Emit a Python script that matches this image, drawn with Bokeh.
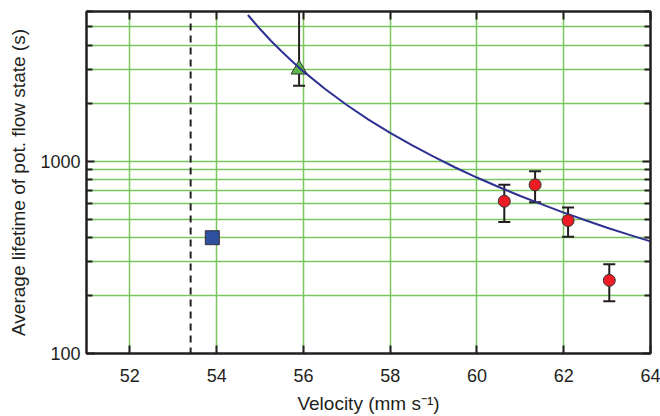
from bokeh.plotting import figure
from bokeh.models import (Range1d, FixedTicker, LinearAxis, LogAxis, Span, Whisker,
                          TeeHead, ColumnDataSource, CustomJSTickFormatter,
                          PrintfTickFormatter)
from bokeh.embed import file_html
from bokeh.resources import INLINE

# Measured lifetimes (red circles) with error-bar limits
vel_meas = [60.63, 61.34, 62.10, 63.05]
life_meas = [619, 753, 491, 240]
life_meas_hi = [753, 887, 574, 291]
life_meas_lo = [483, 611, 405, 187]

# Single estimate (green triangle) with its error bar
vel_tri = [55.9]
life_tri = [3000]
life_tri_hi = [6000]
life_tri_lo = [2465]

# Single point (blue square)
vel_sq = [53.9]
life_sq = [400]

# Fitted lifetime curve
vel_fit = [54.72, 55.0, 55.25, 55.5, 55.75, 56.0, 56.5, 57.0, 57.5, 58.0, 58.5,
           59.0, 59.5, 60.0, 60.5, 61.0, 61.5, 62.0, 62.5, 63.0, 63.5, 64.0]
life_fit = [5754, 4864, 4230, 3715, 3286, 2929, 2371, 1959, 1645, 1403, 1211,
            1055, 927, 822, 734, 659, 596, 540, 493, 451, 415, 383]

# Critical velocity (dashed line)
vel_crit = 53.4

x_ticks = [52, 54, 56, 58, 60, 62, 64]
y_major = [100, 1000]
y_minor = [200, 300, 400, 500, 600, 700, 800, 900,
           2000, 3000, 4000, 5000, 6000]

FONT = "Liberation Sans"
INK = "#231f20"
GRID = "#7ac65f"

p = figure(width=660, height=416, x_range=Range1d(51, 64), y_range=Range1d(100, 6000),
           y_axis_type="log", output_backend="svg", toolbar_location=None,
           min_border_left=86, min_border_right=10, min_border_top=11,
           min_border_bottom=63)
p.background_fill_color = "white"
p.border_fill_color = "white"
p.outline_line_color = INK
p.outline_line_width = 2

bottom = p.below[0]
left = p.left[0]

xt = FixedTicker(ticks=x_ticks)
yt = FixedTicker(ticks=y_major, minor_ticks=y_minor)

bottom.ticker = xt
left.ticker = yt
left.formatter = PrintfTickFormatter(format="%d")
bottom.axis_label = "Velocity (mm s\u207b\u00b9)"
left.axis_label = "Average lifetime of pot. flow state (s)"

top = LinearAxis(ticker=xt, formatter=CustomJSTickFormatter(code="return ''"))
right = LogAxis(ticker=yt, formatter=CustomJSTickFormatter(code="return ''"))
p.add_layout(top, "above")
p.add_layout(right, "right")

for ax in [bottom, left, top, right]:
    ax.axis_line_color = INK
    ax.axis_line_width = 2
    ax.major_tick_line_color = INK
    ax.major_tick_line_width = 2
    ax.minor_tick_line_color = INK
    ax.minor_tick_line_width = 2
    ax.major_tick_in = 8
    ax.major_tick_out = 0
    ax.minor_tick_in = 6
    ax.minor_tick_out = 0
    ax.major_label_text_font = FONT
    ax.major_label_text_font_size = "18px"
    ax.major_label_text_color = INK
    ax.axis_label_text_font = FONT
    ax.axis_label_text_font_size = "19px"
    ax.axis_label_text_font_style = "normal"
    ax.axis_label_text_color = INK

top.major_label_standoff = 0
right.major_label_standoff = 0
bottom.major_label_standoff = 15
bottom.axis_label_standoff = 8
left.major_label_standoff = 6
left.axis_label_standoff = 8

p.xgrid.ticker = xt
p.ygrid.ticker = yt
p.xgrid.grid_line_color = GRID
p.xgrid.grid_line_width = 1.5
p.ygrid.grid_line_color = GRID
p.ygrid.grid_line_width = 1.5
p.ygrid.minor_grid_line_color = GRID
p.ygrid.minor_grid_line_width = 1.5

# dashed critical-velocity marker
p.add_layout(Span(location=vel_crit, dimension="height", line_color=INK,
                  line_width=2, line_dash="7 5"))

# error bars
src_meas = ColumnDataSource(dict(x=vel_meas, y=life_meas, hi=life_meas_hi, lo=life_meas_lo))
p.add_layout(Whisker(source=src_meas, base="x", upper="hi", lower="lo",
                     dimension="height", line_color=INK, line_width=2,
                     upper_head=TeeHead(size=12, line_color=INK, line_width=2),
                     lower_head=TeeHead(size=12, line_color=INK, line_width=2)))
src_tri = ColumnDataSource(dict(x=vel_tri, y=life_tri, hi=life_tri_hi, lo=life_tri_lo))
p.add_layout(Whisker(source=src_tri, base="x", upper="hi", lower="lo",
                     dimension="height", line_color=INK, line_width=2,
                     upper_head=None,
                     lower_head=TeeHead(size=12, line_color=INK, line_width=2)))

p.scatter("x", "y", source=src_tri, marker="triangle", size=16,
          fill_color="#5cb847", line_color="#333333", line_width=1)

p.line(vel_fit, life_fit, line_color="#2e3192", line_width=2)

p.scatter(vel_sq, life_sq, marker="square", size=14,
          fill_color="#2f4f9f", line_color="#333333", line_width=1)
p.scatter("x", "y", source=src_meas, marker="circle", size=12,
          fill_color="#ed1c24", line_color="#333333", line_width=1)

open("out.html", "w").write(file_html(p, INLINE))
